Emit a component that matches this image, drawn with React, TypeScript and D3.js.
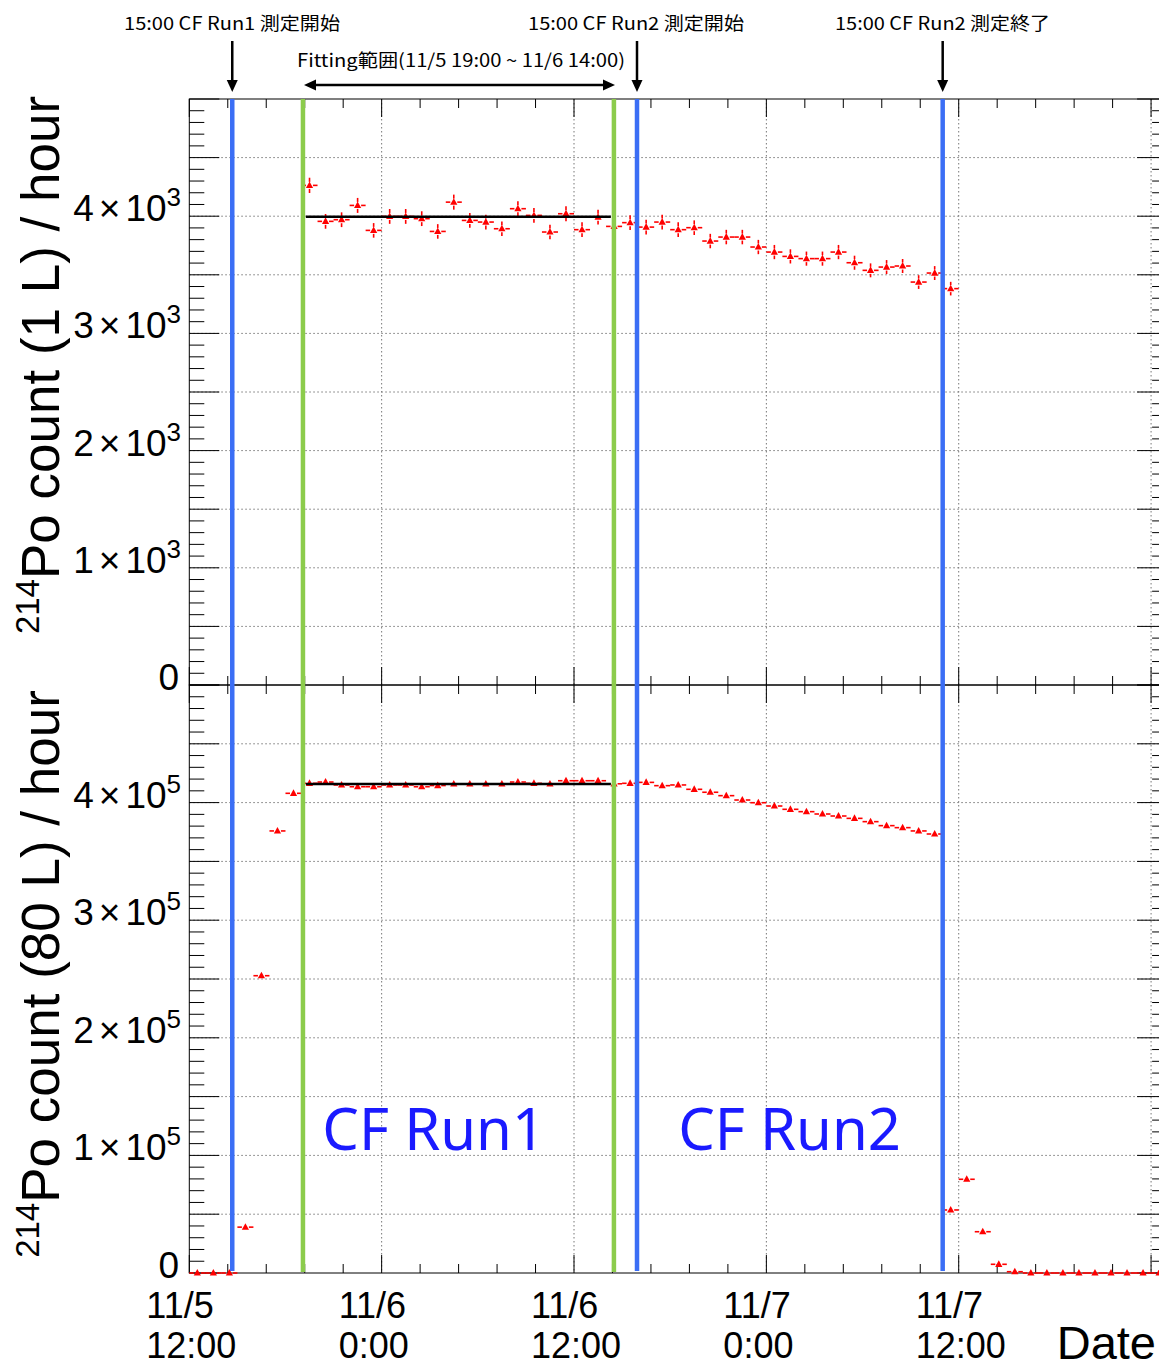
import React from "react";
import * as d3 from "d3";

// hours since 11/5 12:00
const xDomain = [0, 61];
const topFirstBin = 7;
const topCounts = [
  4263, 3956, 3970, 4092, 3879, 3998, 3998, 3979, 3870, 4120, 3964, 3950, 3893,
  4064, 4007, 3865, 4021, 3885, 3992, 3913, 3945, 3907, 3950, 3885, 3902, 3788,
  3822, 3822, 3737, 3694, 3657, 3638, 3638, 3694, 3603, 3538, 3566, 3575, 3438,
  3515, 3382,
];
const bottomFirstBin = 0;
const bottomCounts = [
  0, 0, 0, 39000, 252800, 375900, 407900, 416400, 417500, 415000, 413500, 413500,
  415000, 415000, 413500, 414500, 415800, 415800, 415800, 415800, 417500, 416400,
  415800, 418600, 418600, 418600, 416000, 416400, 417200, 414400, 415000, 411300,
  408800, 405900, 402200, 399900, 397100, 394300, 392300, 390300, 388600, 386600,
  383800, 380400, 378700, 375900, 373300, 53600, 79700, 35100, 7400, 1100, 0, 0,
  0, 0, 0, 0, 0, 0, 0,
];
const fitRange = [7.27, 26.3];
const fitTopValue = 3995;
const fitBottomValue = 415800;
const blueLines = [2.68, 27.93, 47.0];
const greenLines = [7.09, 26.49];
const xLabelHours = [0, 12, 24, 36, 48];
const xLabelDates = ["11/5", "11/6", "11/6", "11/7", "11/7"];
const xLabelTimes = ["12:00", "0:00", "12:00", "0:00", "12:00"];
const topYLabelMantissas = [0, 1, 2, 3, 4];
const topExp = 3;
const bottomYLabelMantissas = [0, 1, 2, 3, 4];
const bottomExp = 5;
const annotations = [
  { text: "15:00 CF Run1 測定開始", x: 124, y: 30, w: 216 },
  { text: "15:00 CF Run2 測定開始", x: 528, y: 30, w: 216 },
  { text: "15:00 CF Run2 測定終了", x: 835, y: 30, w: 215 },
  { text: "Fitting範囲(11/5 19:00 ~ 11/6 14:00)", x: 297, y: 67, w: 328 },
];
const arrowHours = [2.68, 27.93, 47.0];
const runLabels = [
  { text: "CF Run1", hour: 8.3 },
  { text: "CF Run2", hour: 30.5 },
];

const X0 = 189.3;
const X1 = 1167.1;
const FONT = "'Liberation Sans', Arial, Helvetica, sans-serif";
const RED = "#ff0000";
const BLUE = "#3b6ef5";
const GREEN = "#8ccc4c";

const x = d3.scaleLinear().domain(xDomain).range([X0, X1]);

type PanelProps = {
  yScale: d3.ScaleLinear<number, number>;
  top: number;
  bottom: number;
  major: number;
  minor: number;
  max: number;
  counts: number[];
  firstBin: number;
  fitValue: number;
  mantissas: number[];
  exp: number;
  title: string;
  titleCenter: number;
};

function Panel(p: PanelProps) {
  const { yScale, top, bottom } = p;
  const majorY = d3.range(0, p.max + 1, p.major);
  const minorY = d3.range(0, p.max + 1, p.minor);
  const majorX = d3.range(0, xDomain[1] + 0.01, 12);
  const minorX = d3.range(0, xDomain[1] + 0.01, 2.4);
  const grid = "#777";
  return (
    <g>
      {majorY
        .filter((v) => v > 0 && v < p.max)
        .map((v) => (
          <line key={"gy" + v} x1={X0} x2={X1} y1={yScale(v)} y2={yScale(v)} stroke={grid} strokeWidth={1} strokeDasharray="1.5,2.5" />
        ))}
      {majorX
        .filter((h) => h > 0)
        .map((h) => (
          <line key={"gx" + h} x1={x(h)} x2={x(h)} y1={top} y2={bottom} stroke={grid} strokeWidth={1} strokeDasharray="1.5,2.5" />
        ))}
      {minorY.map((v) => {
        const len = v % p.major === 0 ? 30 : 15;
        return (
          <g key={"ty" + v}>
            <line x1={X0} x2={X0 + len} y1={yScale(v)} y2={yScale(v)} stroke="#000" strokeWidth={1} />
            <line x1={X1 - len} x2={X1} y1={yScale(v)} y2={yScale(v)} stroke="#000" strokeWidth={1} />
          </g>
        );
      })}
      {minorX.map((h, i) => {
        const len = i % 5 === 0 ? 18 : 9;
        return (
          <g key={"tx" + i}>
            <line x1={x(h)} x2={x(h)} y1={bottom} y2={bottom - len} stroke="#000" strokeWidth={1} />
            <line x1={x(h)} x2={x(h)} y1={top} y2={top + len} stroke="#000" strokeWidth={1} />
          </g>
        );
      })}
      <rect x={X0} y={top} width={X1 - X0} height={bottom - top} fill="none" stroke="#000" strokeWidth={1} />
      {p.counts.map((v, i) => {
        const bin = p.firstBin + i;
        const cx = x(bin + 0.5);
        const cy = yScale(v);
        const xl = x(bin);
        const xr = x(bin + 1);
        const err = Math.abs(yScale(v + Math.sqrt(v)) - cy);
        const gap = 3.5;
        return (
          <g key={"p" + i}>
            <line x1={xl} x2={cx - gap} y1={cy} y2={cy} stroke={RED} strokeWidth={1.6} />
            <line x1={cx + gap} x2={xr} y1={cy} y2={cy} stroke={RED} strokeWidth={1.6} />
            {err > gap && (
              <>
                <line x1={cx} x2={cx} y1={cy - err} y2={cy - gap} stroke={RED} strokeWidth={1.6} />
                <line x1={cx} x2={cx} y1={cy + gap} y2={cy + err} stroke={RED} strokeWidth={1.6} />
              </>
            )}
            <path d={`M${cx},${cy - 4} L${cx + 3.6},${cy + 2.6} L${cx - 3.6},${cy + 2.6} Z`} fill={RED} />
          </g>
        );
      })}
      <line x1={x(fitRange[0])} x2={x(fitRange[1])} y1={yScale(p.fitValue)} y2={yScale(p.fitValue)} stroke="#000" strokeWidth={2.6} />
      {p.mantissas.map((m) => {
        const v = m * Math.pow(10, p.exp);
        const yy = yScale(v) + 5;
        if (m === 0)
          return (
            <text key={"yl" + m} x={179} y={yy} textAnchor="end" fontSize={37} fontFamily={FONT}>
              0
            </text>
          );
        return (
          <text key={"yl" + m} x={181} y={yy} textAnchor="end" fontSize={37} fontFamily={FONT}>
            <tspan>{m}</tspan>
            <tspan dx={5}>×</tspan>
            <tspan dx={5}>10</tspan>
            <tspan fontSize={26} dy={-15}>{p.exp}</tspan>
          </text>
        );
      })}
      <text transform={`translate(59, ${p.titleCenter}) rotate(-90)`} textAnchor="middle" fontSize={53} fontFamily={FONT}>
        <tspan fontSize={33} dy={-20}>214</tspan>
        <tspan dy={20}>{p.title}</tspan>
      </text>
    </g>
  );
}

export default function App() {
  const yTop = d3.scaleLinear().domain([0, 5000]).range([685, 99]);
  const yBot = d3.scaleLinear().domain([0, 500000]).range([1273, 685]);
  const ann = "'Noto Sans CJK JP', 'Noto Sans', sans-serif";
  return (
    <svg
      width={1159}
      height={1370}
      style={{ position: "absolute", left: 0, top: 0, background: "#fff" }}
    >
      <rect x={0} y={0} width={1159} height={1370} fill="#fff" />
      <Panel
        yScale={yTop}
        top={99}
        bottom={685}
        major={500}
        minor={100}
        max={5000}
        counts={topCounts}
        firstBin={topFirstBin}
        fitValue={fitTopValue}
        mantissas={topYLabelMantissas}
        exp={topExp}
        title="Po count (1 L) / hour"
        titleCenter={365}
      />
      <Panel
        yScale={yBot}
        top={685}
        bottom={1273}
        major={50000}
        minor={10000}
        max={500000}
        counts={bottomCounts}
        firstBin={bottomFirstBin}
        fitValue={fitBottomValue}
        mantissas={bottomYLabelMantissas}
        exp={bottomExp}
        title="Po count (80 L) / hour"
        titleCenter={974}
      />
      {greenLines.map((h) => (
        <line key={"g" + h} x1={x(h)} x2={x(h)} y1={99} y2={1272} stroke={GREEN} strokeWidth={4.5} />
      ))}
      {blueLines.map((h) => (
        <line key={"b" + h} x1={x(h)} x2={x(h)} y1={99} y2={1271} stroke={BLUE} strokeWidth={4.5} />
      ))}
      {runLabels.map((r) => (
        <text key={r.text} x={x(r.hour)} y={1150} fontSize={58} fill="#1a1aff" fontFamily="'Noto Sans', sans-serif">
          {r.text}
        </text>
      ))}
      {xLabelHours.map((h, i) => (
        <text key={"xl" + i} x={x(h) - 43} fontSize={36} fontFamily={FONT}>
          <tspan x={x(h) - 43} y={1318}>{xLabelDates[i]}</tspan>
          <tspan x={x(h) - 43} y={1358}>{xLabelTimes[i]}</tspan>
        </text>
      ))}
      <text x={1156} y={1359} textAnchor="end" fontSize={47} fontFamily={FONT}>
        Date
      </text>
      {annotations.map((a) => (
        <text key={a.text} x={a.x} y={a.y} fontSize={18} fontFamily={ann} textLength={a.w} lengthAdjust="spacingAndGlyphs">
          {a.text}
        </text>
      ))}
      {arrowHours.map((h) => (
        <g key={"a" + h}>
          <line x1={x(h)} x2={x(h)} y1={41} y2={82} stroke="#000" strokeWidth={2.5} />
          <path d={`M${x(h) - 5.5},${80} L${x(h) + 5.5},${80} L${x(h)},${92} Z`} fill="#000" />
        </g>
      ))}
      <g>
        <line x1={315} x2={604} y1={85} y2={85} stroke="#000" strokeWidth={2.5} />
        <path d="M304,85 L316,79.5 L316,90.5 Z" fill="#000" />
        <path d="M615,85 L603,79.5 L603,90.5 Z" fill="#000" />
      </g>
    </svg>
  );
}
